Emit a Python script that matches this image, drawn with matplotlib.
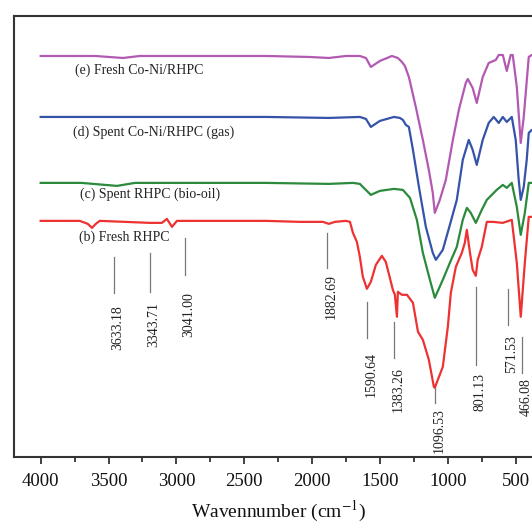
import numpy as np
import matplotlib
matplotlib.use('Agg')
import matplotlib.pyplot as plt

plt.rcParams['font.family'] = ['Liberation Serif', 'DejaVu Serif']
plt.rcParams['mathtext.fontset'] = 'stix'

# spectra (wavenumber, offset transmittance)
wn_e = [4000, 3600, 3394, 3270, 2341, 2020, 1877, 1752, 1649, 1604, 1568, 1502, 1413, 1369,
        1339, 1317, 1288, 1237, 1185, 1141, 1112, 1097, 1060, 1016, 964, 920, 869, 854, 818,
        788, 744, 700, 648, 626, 596, 567, 538, 523, 493, 464, 442, 405, 383, 370]
tr_e = [401, 401, 399, 401, 401, 400, 399, 401, 401, 399, 390, 396, 401, 399,
        395, 391, 380, 350, 317, 287, 264, 244, 257, 277, 317, 347, 374, 378, 369,
        354, 380, 394, 397, 402, 402, 386, 402, 402, 370, 314, 340, 400, 402, 402]

wn_d = [4000, 2341, 1877, 1649, 1604, 1568, 1502, 1398, 1354, 1332, 1310, 1288, 1258, 1214,
        1163, 1112, 1089, 1038, 986, 935, 891, 847, 818, 788, 744, 700, 663, 626, 596, 567,
        530, 501, 479, 464, 442, 420, 405, 383, 370]
tr_d = [340, 340, 339, 340, 338, 330, 336, 340, 339, 337, 332, 330, 307, 270,
        230, 204, 197, 207, 232, 257, 297, 317, 307, 292, 317, 334, 340, 334, 340, 335,
        340, 317, 277, 257, 270, 297, 324, 327, 327]

wn_c = [4000, 3700, 3438, 3305, 2341, 1877, 1700, 1649, 1620, 1568, 1502, 1398, 1332, 1280,
        1229, 1185, 1133, 1097, 1038, 986, 935, 891, 861, 832, 795, 751, 714, 641, 596, 567,
        530, 493, 464, 434, 405, 383, 370]
tr_c = [274, 274, 271, 274, 274, 273, 274, 273, 269, 262, 266, 268, 267, 259,
        237, 204, 177, 159, 177, 194, 210, 237, 249, 244, 234, 247, 257, 267, 272, 269,
        274, 250, 222, 244, 274, 274, 274]

wn_b = [4000, 3712, 3653, 3622, 3594, 3565, 3195, 3107, 3070, 3033, 2996, 2341, 2091, 1921,
        1877, 1833, 1752, 1722, 1700, 1671, 1649, 1627, 1597, 1568, 1531, 1487, 1458, 1428,
        1406, 1391, 1376, 1369, 1339, 1302, 1258, 1221, 1185, 1141, 1104, 1097, 1038, 1001,
        979, 942, 898, 876, 861, 839, 818, 795, 781, 751, 714, 670, 596, 530, 493, 464, 434,
        405, 383, 370]
tr_b = [236, 236, 233, 229, 233, 236, 234, 234, 238, 230, 236, 236, 235, 235,
        233, 235, 236, 235, 224, 215, 200, 180, 168, 175, 192, 201, 195, 179,
        167, 162, 140, 165, 162, 162, 154, 125, 117, 97, 70, 69, 90, 130,
        164, 190, 204, 214, 227, 205, 187, 181, 197, 210, 235, 235, 234, 237, 194, 140, 194,
        240, 240, 240]

series = [
    (wn_e, tr_e, '#b25ab2', '(e) Fresh Co-Ni/RHPC', 3750, 387),
    (wn_d, tr_d, '#3553a8', '(d) Spent Co-Ni/RHPC (gas)', 3765, 325),
    (wn_c, tr_c, '#2b8a3b', '(c) Spent RHPC (bio-oil)', 3712, 263),
    (wn_b, tr_b, '#ee3131', '(b) Fresh RHPC', 3718, 220),
]

# peak labels of (b): text, marker x, line top, line bottom, text top
peak_txt = ['3633.18', '3343.71', '3041.00', '1882.69', '1590.64', '1383.26',
            '1096.53', '801.13', '571.53', '466.08']
peak_x = [3460, 3195, 2937, 1892, 1597, 1398, 1097, 795, 560, 456]
peak_top = [200, 204, 219, 224, 155, 135, 69, 170, 168, 120]
peak_bot = [164, 165, 182, 189, 119, 99, 54, 92, 132, 84]
peak_lbl = [152, 155, 165, 183, 105, 90, 49, 84, 122, 79]

fig = plt.figure(figsize=(5.32, 5.25), dpi=100)
ax = fig.add_axes([0.0254, 0.1301, 0.9953, 0.8394])

for wn, tr, col, name, lx, ly in series:
    ax.plot(wn, tr, color=col, lw=1.6, solid_joinstyle='round')
    ax.text(lx, ly, name, fontsize=10, color='#222222', ha='left', va='center')

for t, x, y1, y0, yt in zip(peak_txt, peak_x, peak_top, peak_bot, peak_lbl):
    ax.plot([x, x], [y0, y1], color='#777777', lw=0.9)
    ax.text(x - 30, yt, t, rotation=90, fontsize=10, color='#222222',
            ha='center', va='top')

ax.set_xlim(4200, 300)
ax.set_ylim(0, 441)
ax.set_xticks([4000, 3500, 3000, 2500, 2000, 1500, 1000, 500])
ax.set_xticks(np.arange(3750, 300, -500), minor=True)
ax.set_yticks([])
for s in ax.spines.values():
    s.set_linewidth(1.5)
    s.set_color('#333333')
ax.tick_params(axis='x', which='major', direction='out', length=5, width=1.3,
               labelsize=13.5, pad=6.5, colors='#333333', labelcolor='#111111')
ax.tick_params(axis='x', which='minor', direction='out', length=3.5, width=1.3,
               colors='#333333')
ax.set_xlabel('Wavennumber (cm$^{-1}$)', fontsize=14, labelpad=7, color='#111111')

fig.savefig('out.png', dpi=100)
